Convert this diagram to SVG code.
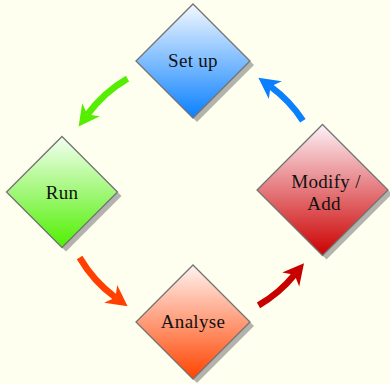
<svg xmlns="http://www.w3.org/2000/svg" width="390" height="384" viewBox="0 0 390 384">
<defs>
<style>
.node{stroke:#737373;stroke-width:1.3}
.shadow{fill:#b3b3ad}
.label{font-family:"Liberation Serif","DejaVu Serif",serif;font-size:19px;fill:#111;text-anchor:middle;letter-spacing:0.3px}
.arc{fill:none;stroke-width:6.5;stroke-linecap:butt}
</style>
<linearGradient id="gBlue" x1="0" y1="0" x2="0" y2="1"><stop offset="0" stop-color="#f4f9ff"/><stop offset="1" stop-color="#0a80ff"/></linearGradient>
<linearGradient id="gGreen" x1="0" y1="0" x2="0" y2="1"><stop offset="0" stop-color="#f4fff2"/><stop offset="1" stop-color="#4ff000"/></linearGradient>
<linearGradient id="gRed" x1="0" y1="0" x2="0" y2="1"><stop offset="0" stop-color="#fdf2f8"/><stop offset="1" stop-color="#cc0000"/></linearGradient>
<linearGradient id="gOrange" x1="0" y1="0" x2="0" y2="1"><stop offset="0" stop-color="#fff3f0"/><stop offset="1" stop-color="#ff4400"/></linearGradient>
<marker id="mGreen" markerUnits="userSpaceOnUse" viewBox="-7 -12 24 24" markerWidth="24" markerHeight="24" refX="0" refY="0" orient="auto"><path d="M15,0 L-6,-11 L0,0 L-6,11 Z" fill="#55ee00"/></marker>
<marker id="mBlue" markerUnits="userSpaceOnUse" viewBox="-7 -12 24 24" markerWidth="24" markerHeight="24" refX="0" refY="0" orient="auto"><path d="M15,0 L-6,-11 L0,0 L-6,11 Z" fill="#0a80ff"/></marker>
<marker id="mOrange" markerUnits="userSpaceOnUse" viewBox="-7 -12 24 24" markerWidth="24" markerHeight="24" refX="0" refY="0" orient="auto"><path d="M15,0 L-6,-11 L0,0 L-6,11 Z" fill="#ff4000"/></marker>
<marker id="mRed" markerUnits="userSpaceOnUse" viewBox="-7 -12 24 24" markerWidth="24" markerHeight="24" refX="0" refY="0" orient="auto"><path d="M15,0 L-6,-11 L0,0 L-6,11 Z" fill="#c80000"/></marker>
</defs>
<rect width="390" height="384" fill="#ffffef"/>
<g id="connectors">
<path class="arc" stroke="#55ee00" marker-end="url(#mGreen)" d="M127.5,78.6 A131,131 0 0 0 87.5,114.5"/>
<path class="arc" stroke="#ff4000" marker-end="url(#mOrange)" d="M79.6,257.5 A131,131 0 0 0 115.5,297.5"/>
<path class="arc" stroke="#c80000" marker-end="url(#mRed)" d="M258.5,305.4 A131,131 0 0 0 294.5,274.8"/>
<path class="arc" stroke="#0a80ff" marker-end="url(#mBlue)" d="M302.9,120.7 A131,131 0 0 0 270.5,86.5"/>
</g>
<g id="setup">
<polygon class="shadow" points="197,8 254,65 197,122 140,65"/>
<polygon class="node" fill="url(#gBlue)" points="193,4 250,61 193,118 136,61"/>
<text class="label" x="193" y="67">Set up</text>
</g>
<g id="run">
<polygon class="shadow" points="66,140.5 121.5,196 66,251.5 10.5,196"/>
<polygon class="node" fill="url(#gGreen)" points="62,136.5 117.5,192 62,247.5 6.5,192"/>
<text class="label" x="62" y="199">Run</text>
</g>
<g id="analyse">
<polygon class="shadow" points="197,269 254,326 197,383 140,326"/>
<polygon class="node" fill="url(#gOrange)" points="193,265 250,322 193,379 136,322"/>
<text class="label" x="193" y="328">Analyse</text>
</g>
<g id="modify">
<polygon class="shadow" points="326.5,128.5 392,194 326.5,259.5 261,194"/>
<polygon class="node" fill="url(#gRed)" points="322.5,124.5 388,190 322.5,255.5 257,190"/>
<text class="label" x="326" y="188">Modify /</text>
<text class="label" x="324" y="210">Add</text>
</g>
</svg>
